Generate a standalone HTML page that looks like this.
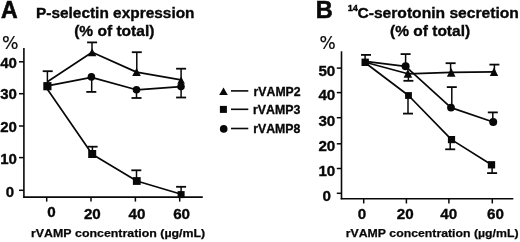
<!DOCTYPE html>
<html><head><meta charset="utf-8"><style>
html,body{margin:0;padding:0;background:#fff;}
svg{display:block;}
</style></head><body>
<svg width="520" height="242" viewBox="0 0 520 242" style="font-family:'Liberation Sans', Arial, Helvetica, sans-serif;font-kerning:none" fill="#080808" stroke="#080808">
<rect x="0" y="0" width="520" height="242" fill="#fff" stroke="none"/>
<text x="0" y="0" font-size="24" font-weight="bold" text-anchor="start" stroke-width="0.6" transform="translate(0.9,17.6) scale(0.96,1)">A</text>
<text x="36.0" y="18.2" font-size="15.2" font-weight="bold" text-anchor="start" textLength="158.5" lengthAdjust="spacingAndGlyphs" stroke-width="0.35">P-selectin expression</text>
<text x="74.2" y="35.9" font-size="15.2" font-weight="bold" text-anchor="start" textLength="80.2" lengthAdjust="spacingAndGlyphs" stroke-width="0.35">(% of total)</text>
<text x="0" y="0" font-size="17.9" font-weight="normal" text-anchor="start" stroke-width="0.2" transform="translate(2.0,49.0) scale(0.97,1)" style="font-family:'DejaVu Sans', sans-serif">%</text>
<line x1="23.9" y1="48.1" x2="23.9" y2="197.6" stroke-width="1.6"/>
<line x1="23.1" y1="197.1" x2="202.8" y2="197.1" stroke-width="1.6"/>
<line x1="19.0" y1="61.8" x2="23.9" y2="61.8" stroke-width="1.5"/>
<line x1="19.0" y1="93.7" x2="23.9" y2="93.7" stroke-width="1.5"/>
<line x1="19.0" y1="126.0" x2="23.9" y2="126.0" stroke-width="1.5"/>
<line x1="19.0" y1="157.6" x2="23.9" y2="157.6" stroke-width="1.5"/>
<line x1="19.0" y1="190.3" x2="23.9" y2="190.3" stroke-width="1.5"/>
<text x="16.9" y="68.2" font-size="15" font-weight="bold" text-anchor="end" stroke-width="0.35">40</text>
<text x="16.9" y="99.0" font-size="15" font-weight="bold" text-anchor="end" stroke-width="0.35">30</text>
<text x="16.9" y="131.8" font-size="15" font-weight="bold" text-anchor="end" stroke-width="0.35">20</text>
<text x="16.9" y="164.0" font-size="15" font-weight="bold" text-anchor="end" stroke-width="0.35">10</text>
<text x="14.1" y="197.0" font-size="15" font-weight="bold" text-anchor="end" stroke-width="0.35">0</text>
<line x1="46.7" y1="197.1" x2="46.7" y2="201.6" stroke-width="1.5"/>
<line x1="91.0" y1="197.1" x2="91.0" y2="201.6" stroke-width="1.5"/>
<line x1="135.4" y1="197.1" x2="135.4" y2="201.6" stroke-width="1.5"/>
<line x1="179.7" y1="197.1" x2="179.7" y2="201.6" stroke-width="1.5"/>
<text x="51.5" y="217.1" font-size="15.2" font-weight="bold" text-anchor="middle" stroke-width="0.35">0</text>
<text x="92.35" y="218.9" font-size="15.2" font-weight="bold" text-anchor="middle" stroke-width="0.35">20</text>
<text x="137.0" y="218.9" font-size="15.2" font-weight="bold" text-anchor="middle" stroke-width="0.35">40</text>
<text x="181.6" y="218.9" font-size="15.2" font-weight="bold" text-anchor="middle" stroke-width="0.35">60</text>
<text x="31.0" y="236.7" font-size="11.7" font-weight="bold" text-anchor="start" textLength="174.2" lengthAdjust="spacingAndGlyphs" stroke-width="0.25">rVAMP concentration (µg/mL)</text>
<polyline points="47.4,81.7 92.1,52.3 136.5,72.1 181.1,79.8" fill="none" stroke-width="1.7" stroke-linejoin="round"/>
<polyline points="47.4,85.8 91.5,77.4 136.5,89.8 181.0,86.6" fill="none" stroke-width="1.7" stroke-linejoin="round"/>
<polyline points="47.4,89.3 92.2,154.3 136.8,181.0 181.3,194.3" fill="none" stroke-width="1.7" stroke-linejoin="round"/>
<line x1="47.4" y1="86.2" x2="47.4" y2="71.2" stroke-width="1.5"/>
<line x1="42.7" y1="71.2" x2="52.7" y2="71.2" stroke-width="1.8"/>
<line x1="92.0" y1="52.3" x2="92.0" y2="42.4" stroke-width="1.5"/>
<line x1="87.1" y1="42.4" x2="97.1" y2="42.4" stroke-width="1.8"/>
<line x1="91.7" y1="77.4" x2="91.7" y2="91.9" stroke-width="1.5"/>
<line x1="86.3" y1="91.9" x2="96.3" y2="91.9" stroke-width="1.8"/>
<line x1="92.4" y1="154.0" x2="92.4" y2="146.7" stroke-width="1.5"/>
<line x1="87.6" y1="146.7" x2="97.6" y2="146.7" stroke-width="1.8"/>
<line x1="136.8" y1="72.0" x2="136.8" y2="52.2" stroke-width="1.5"/>
<line x1="131.8" y1="52.2" x2="141.8" y2="52.2" stroke-width="1.8"/>
<line x1="136.5" y1="89.8" x2="136.5" y2="98.0" stroke-width="1.5"/>
<line x1="131.5" y1="98.0" x2="141.5" y2="98.0" stroke-width="1.8"/>
<line x1="136.5" y1="181" x2="136.5" y2="170.3" stroke-width="1.5"/>
<line x1="131.3" y1="170.3" x2="141.3" y2="170.3" stroke-width="1.8"/>
<line x1="181.1" y1="79.6" x2="181.1" y2="68.7" stroke-width="1.5"/>
<line x1="176.1" y1="68.7" x2="186.1" y2="68.7" stroke-width="1.8"/>
<line x1="181.1" y1="86.6" x2="181.1" y2="97.5" stroke-width="1.5"/>
<line x1="176.1" y1="97.5" x2="186.1" y2="97.5" stroke-width="1.8"/>
<line x1="181.1" y1="194.5" x2="181.1" y2="186.8" stroke-width="1.5"/>
<line x1="176.1" y1="186.8" x2="186.1" y2="186.8" stroke-width="1.8"/>
<rect x="43.30" y="82.10" width="8.2" height="8.2" stroke="none"/>
<polygon points="87.80,56.20 96.40,56.20 92.10,48.40" stroke="none"/>
<polygon points="132.20,75.90 140.80,75.90 136.50,68.10" stroke="none"/>
<polygon points="177.30,83.80 184.90,83.80 181.10,76.60" stroke="none"/>
<circle cx="91.4" cy="76.9" r="3.8" stroke="none"/>
<circle cx="136.5" cy="89.7" r="3.8" stroke="none"/>
<circle cx="181.0" cy="86.6" r="3.8" stroke="none"/>
<rect x="88.20" y="150.00" width="8.0" height="8.0" stroke="none"/>
<rect x="132.90" y="177.10" width="7.8" height="7.8" stroke="none"/>
<rect x="177.60" y="191.10" width="7.0" height="7.0" stroke="none"/>
<polygon points="219.20,95.10 227.80,95.10 223.50,87.50" stroke="none"/>
<line x1="231" y1="90.9" x2="248.3" y2="90.9" stroke-width="1.6"/>
<text x="253.6" y="95.8" font-size="12.8" font-weight="bold" text-anchor="start" textLength="47" lengthAdjust="spacingAndGlyphs" stroke-width="0.35">rVAMP2</text>
<rect x="219.90" y="105.90" width="7.0" height="7.0" stroke="none"/>
<line x1="231" y1="109.3" x2="248.3" y2="109.3" stroke-width="1.6"/>
<text x="253.0" y="114.2" font-size="12.8" font-weight="bold" text-anchor="start" textLength="47.4" lengthAdjust="spacingAndGlyphs" stroke-width="0.35">rVAMP3</text>
<circle cx="223.7" cy="128.9" r="3.8" stroke="none"/>
<line x1="231" y1="128.5" x2="248.3" y2="128.5" stroke-width="1.6"/>
<text x="253.2" y="132.9" font-size="12.8" font-weight="bold" text-anchor="start" textLength="47.2" lengthAdjust="spacingAndGlyphs" stroke-width="0.35">rVAMP8</text>
<text x="315.8" y="18.2" font-size="23.5" font-weight="bold" text-anchor="start" stroke-width="0.6">B</text>
<text x="347.7" y="10.5" font-size="9.4" font-weight="bold" text-anchor="start" textLength="10.2" lengthAdjust="spacingAndGlyphs" stroke-width="0.35">14</text>
<text x="357.4" y="18.4" font-size="15.2" font-weight="bold" text-anchor="start" textLength="161.5" lengthAdjust="spacingAndGlyphs" stroke-width="0.35">C-serotonin secretion</text>
<text x="390.1" y="35.9" font-size="15.2" font-weight="bold" text-anchor="start" textLength="80.0" lengthAdjust="spacingAndGlyphs" stroke-width="0.35">(% of total)</text>
<text x="0" y="0" font-size="17.6" font-weight="normal" text-anchor="start" stroke-width="0.2" transform="translate(319.6,48.9) scale(0.97,1)" style="font-family:'DejaVu Sans', sans-serif">%</text>
<line x1="341.5" y1="51.3" x2="341.5" y2="199.3" stroke-width="1.6"/>
<line x1="340.7" y1="198.7" x2="513.3" y2="198.7" stroke-width="1.6"/>
<line x1="336.8" y1="68.1" x2="341.5" y2="68.1" stroke-width="1.5"/>
<line x1="336.8" y1="92.6" x2="341.5" y2="92.6" stroke-width="1.5"/>
<line x1="336.8" y1="117.7" x2="341.5" y2="117.7" stroke-width="1.5"/>
<line x1="336.8" y1="143.8" x2="341.5" y2="143.8" stroke-width="1.5"/>
<line x1="336.8" y1="168.5" x2="341.5" y2="168.5" stroke-width="1.5"/>
<line x1="336.8" y1="193.3" x2="341.5" y2="193.3" stroke-width="1.5"/>
<text x="335.3" y="75.7" font-size="15.2" font-weight="bold" text-anchor="end" stroke-width="0.35">50</text>
<text x="335.3" y="100.2" font-size="15.2" font-weight="bold" text-anchor="end" stroke-width="0.35">40</text>
<text x="335.3" y="125.5" font-size="15.2" font-weight="bold" text-anchor="end" stroke-width="0.35">30</text>
<text x="335.3" y="151.0" font-size="15.2" font-weight="bold" text-anchor="end" stroke-width="0.35">20</text>
<text x="335.3" y="175.5" font-size="15.2" font-weight="bold" text-anchor="end" stroke-width="0.35">10</text>
<text x="331.0" y="200.6" font-size="15.2" font-weight="bold" text-anchor="end" stroke-width="0.35">0</text>
<line x1="363.7" y1="198.7" x2="363.7" y2="203.5" stroke-width="1.5"/>
<line x1="406.4" y1="198.7" x2="406.4" y2="203.5" stroke-width="1.5"/>
<line x1="448.9" y1="198.7" x2="448.9" y2="203.5" stroke-width="1.5"/>
<line x1="492.3" y1="198.7" x2="492.3" y2="203.5" stroke-width="1.5"/>
<text x="362.0" y="218.9" font-size="15.2" font-weight="bold" text-anchor="middle" stroke-width="0.35">0</text>
<text x="405.3" y="218.9" font-size="15.2" font-weight="bold" text-anchor="middle" stroke-width="0.35">20</text>
<text x="448.75" y="218.9" font-size="15.2" font-weight="bold" text-anchor="middle" stroke-width="0.35">40</text>
<text x="495.5" y="218.9" font-size="15.2" font-weight="bold" text-anchor="middle" stroke-width="0.35">60</text>
<text x="345.7" y="236.5" font-size="11.7" font-weight="bold" text-anchor="start" textLength="172.8" lengthAdjust="spacingAndGlyphs" stroke-width="0.25">rVAMP concentration (µg/mL)</text>
<polyline points="365.2,62.3 407.9,73.8 451.2,72.3 494.0,71.8" fill="none" stroke-width="1.7" stroke-linejoin="round"/>
<polyline points="365.2,61.3 405.6,66.3 451.0,107.6 493.2,122.0" fill="none" stroke-width="1.7" stroke-linejoin="round"/>
<polyline points="365.2,62.8 408.5,95.5 451.5,139.6 491.5,164.8" fill="none" stroke-width="1.7" stroke-linejoin="round"/>
<line x1="365.1" y1="62.3" x2="365.1" y2="54.9" stroke-width="1.5"/>
<line x1="361.0" y1="54.9" x2="371.0" y2="54.9" stroke-width="1.8"/>
<line x1="405.6" y1="66.3" x2="405.6" y2="54.1" stroke-width="1.5"/>
<line x1="400.6" y1="54.1" x2="410.6" y2="54.1" stroke-width="1.8"/>
<line x1="408.4" y1="73.8" x2="408.4" y2="80.8" stroke-width="1.5"/>
<line x1="403.4" y1="80.8" x2="413.4" y2="80.8" stroke-width="1.8"/>
<line x1="408.0" y1="95.5" x2="408.0" y2="113.6" stroke-width="1.5"/>
<line x1="403.0" y1="113.6" x2="413.0" y2="113.6" stroke-width="1.8"/>
<line x1="450.6" y1="72.3" x2="450.6" y2="63.2" stroke-width="1.5"/>
<line x1="445.6" y1="63.2" x2="455.6" y2="63.2" stroke-width="1.8"/>
<line x1="451.8" y1="107.6" x2="451.8" y2="87.1" stroke-width="1.5"/>
<line x1="446.8" y1="87.1" x2="456.8" y2="87.1" stroke-width="1.8"/>
<line x1="450.2" y1="139.6" x2="450.2" y2="149.3" stroke-width="1.5"/>
<line x1="445.2" y1="149.3" x2="455.2" y2="149.3" stroke-width="1.8"/>
<line x1="494.4" y1="71.8" x2="494.4" y2="64.6" stroke-width="1.5"/>
<line x1="489.4" y1="64.6" x2="499.4" y2="64.6" stroke-width="1.8"/>
<line x1="492.8" y1="122" x2="492.8" y2="112.4" stroke-width="1.5"/>
<line x1="487.8" y1="112.4" x2="497.8" y2="112.4" stroke-width="1.8"/>
<line x1="492.1" y1="164.8" x2="492.1" y2="173.1" stroke-width="1.5"/>
<line x1="487.1" y1="173.1" x2="497.1" y2="173.1" stroke-width="1.8"/>
<rect x="361.50" y="58.60" width="7.4" height="7.4" stroke="none"/>
<polygon points="403.60,77.70 412.20,77.70 407.90,69.10" stroke="none"/>
<polygon points="446.90,76.70 455.50,76.70 451.20,67.90" stroke="none"/>
<polygon points="489.80,76.10 498.20,76.10 494.00,67.50" stroke="none"/>
<circle cx="405.6" cy="66.3" r="4.0" stroke="none"/>
<circle cx="451.0" cy="107.6" r="3.9" stroke="none"/>
<circle cx="493.2" cy="122.0" r="4.0" stroke="none"/>
<rect x="405.10" y="92.10" width="6.8" height="6.8" stroke="none"/>
<rect x="447.90" y="136.00" width="7.2" height="7.2" stroke="none"/>
<rect x="487.85" y="161.15" width="7.3" height="7.3" stroke="none"/>
</svg>
</body></html>
